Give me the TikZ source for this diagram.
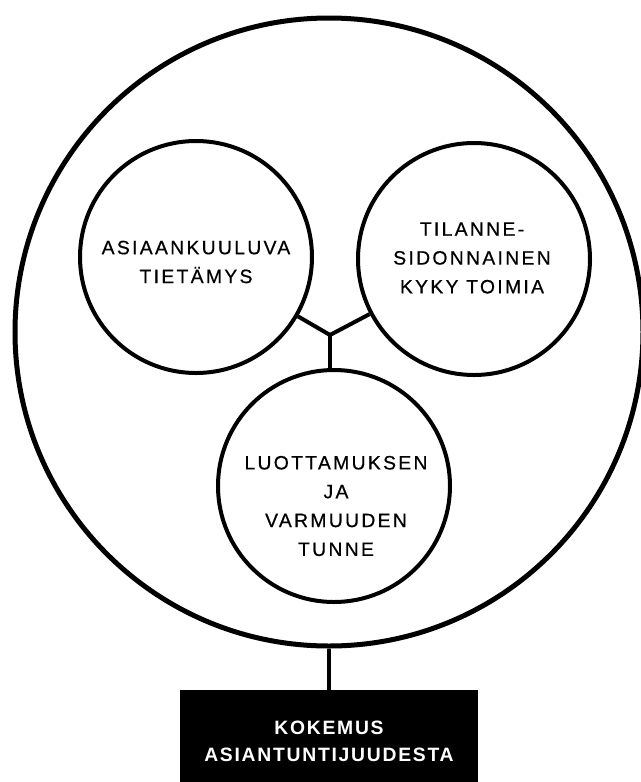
\documentclass[tikz,border=0pt]{standalone}
\usepackage{fontspec}
\setmainfont{Liberation Sans}
\newfontfamily\pallofont[LetterSpace=12,FakeBold=0.6]{Liberation Sans}
\newfontfamily\laatikkofont[LetterSpace=9]{Liberation Sans}
\usepackage{tikz}

\begin{document}
\begin{tikzpicture}[x=1cm,y=1cm,
  pallo/.style={draw,circle,line width=0.08cm,minimum size=4.64cm,inner sep=0pt},
  teksti/.style={align=center,font=\pallofont\fontsize{11}{16.4}\selectfont},
  viiva/.style={line width=0.08cm,line join=round}]
\useasboundingbox (0,0) rectangle (12.82,-15.64);
% iso ympyra
\node[draw,circle,line width=0.1cm,minimum size=12.56cm,inner sep=0pt] (kokemus) at (6.58,-6.64) {};
% kolme osaa
\node[pallo] (tietamys) at (3.92,-5.14) {};
\node[teksti] (tietamysteksti) at (3.92,-5.24) {ASIAANKUULUVA\\TIETÄMYS};
\node[pallo] (kyky) at (9.48,-5.18) {};
\node[teksti] (kykyteksti) at (9.44,-5.16) {TILANNE-\\SIDONNAINEN\\KYKY TOIMIA};
\node[pallo] (tunne) at (6.68,-9.72) {};
\node[teksti] (tunneteksti) at (6.72,-10.12) {LUOTTAMUKSEN\\JA\\VARMUUDEN\\TUNNE};
% haarautuva viiva
\coordinate (haara) at (6.6,-6.7);
\draw[viiva] (tietamys) -- (haara) -- (kyky);
\draw[viiva] (haara) -- (haara |- tunne.north);
% otsikko
\node[fill=black,minimum width=5.96cm,minimum height=2.04cm,inner sep=0pt,
  text=white,align=center,font=\laatikkofont\bfseries\fontsize{11}{15.3}\selectfont]
  (laatikko) at (6.58,-14.82) {KOKEMUS\\ASIANTUNTIJUUDESTA};
\draw[viiva] (kokemus.south) -- (laatikko.north);
\end{tikzpicture}
\end{document}
